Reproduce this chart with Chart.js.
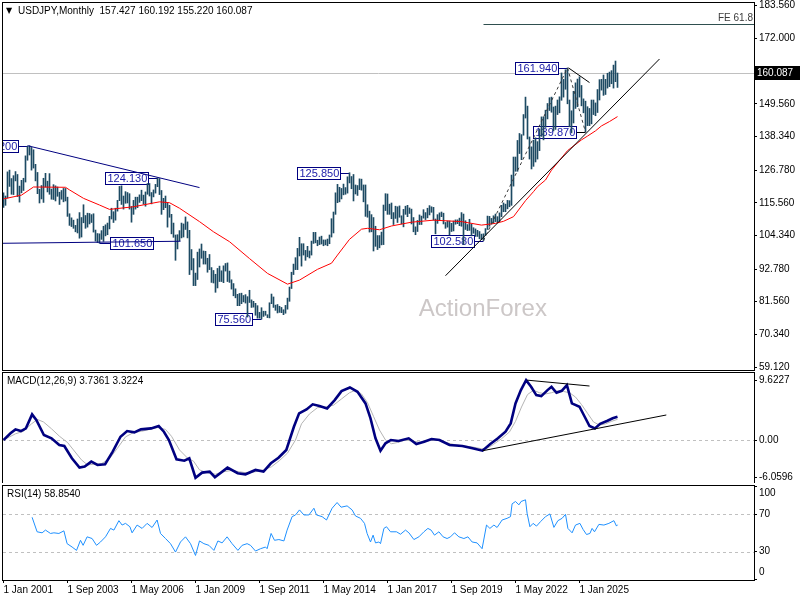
<!DOCTYPE html>
<html><head><meta charset="utf-8">
<script src="https://cdn.jsdelivr.net/npm/chart.js@4.4.1/dist/chart.umd.min.js"></script>
<style>
html,body{margin:0;padding:0;background:#fff;width:800px;height:600px;overflow:hidden}
canvas{position:absolute;left:0}
#cMain{top:0}
#cMacd{top:372px}
#cRsi{top:484px}
</style></head><body>
<canvas id="cMain" width="800" height="372" style="width:800px;height:372px"></canvas>
<canvas id="cMacd" width="800" height="111" style="width:800px;height:111px"></canvas>
<canvas id="cRsi" width="800" height="116" style="width:800px;height:116px"></canvas>
<script>
// ---------- DATA ----------
const symbolTitle = 'USDJPY,Monthly';
const lastBar = {open:157.427, high:160.192, low:155.220, close:160.087};
const xTickBars = [0,32,64,96,128,160,192,224,256,288];
const xTickLabels = ['1 Jan 2001','1 Sep 2003','1 May 2006','1 Jan 2009','1 Sep 2011','1 May 2014','1 Jan 2017','1 Sep 2019','1 May 2022','1 Jan 2025'];
const priceTicks = [183.56,172.0,149.56,138.34,126.78,115.56,104.34,92.78,81.56,70.34,59.12];
const macdTicks = [9.6227,0,-6.0596];
const macdTickLabels = ['9.6227','0.00','-6.0596'];
const rsiTicks = [100,70,30,0];
const rsiLevels = [70,30];

// monthly highs, Jan 2001 .. Aug 2026
const highs = [
119.0,117.9,126.2,126.8,123.9,124.9,126.3,125.3,121.3,123.3,124.0,131.7,
135.0,135.2,134.6,133.8,128.8,126.0,120.2,121.5,124.0,125.7,123.0,125.6,
120.3,121.8,121.4,121.0,119.2,119.8,120.5,120.5,117.5,111.8,110.4,109.6,
107.8,110.0,112.2,110.5,114.9,111.2,112.0,111.9,111.5,111.8,106.2,105.0,
104.9,106.0,107.5,108.0,108.6,110.9,113.7,112.5,113.7,116.4,121.2,121.4,
117.9,119.4,119.1,118.7,114.3,116.4,117.5,117.5,118.3,119.9,118.2,119.3,
122.2,122.2,119.1,120.0,121.9,124.1,123.9,119.8,117.1,117.9,115.4,114.7,
111.6,108.6,104.5,104.6,106.0,108.6,108.3,110.7,109.0,106.1,99.5,96.4,
91.4,98.6,99.7,101.4,99.0,98.9,96.5,97.8,93.3,92.3,91.0,93.0,
93.8,92.2,93.9,94.7,94.9,92.1,89.1,87.8,86.0,84.1,84.4,84.5,
83.7,84.0,83.3,85.5,82.2,81.7,81.0,80.2,77.9,79.5,78.3,78.3,
77.1,81.2,84.2,83.2,80.4,80.6,80.0,79.6,78.8,80.3,82.8,86.6,
91.7,94.5,96.7,99.9,103.7,101.5,101.5,99.2,100.6,99.0,102.4,105.4,
105.4,102.7,103.8,104.1,102.8,102.8,103.1,104.5,110.1,112.4,119.0,121.9,
120.9,120.5,122.0,120.8,124.5,125.9,124.6,125.3,121.7,121.5,123.8,123.7,
121.7,121.7,114.9,112.7,111.5,110.5,107.5,104.3,104.3,105.5,114.8,118.7,
118.6,115.1,115.5,112.2,114.4,114.2,114.5,111.1,113.3,114.4,114.7,113.8,
113.4,110.5,107.3,109.5,111.4,111.0,113.2,112.2,113.7,114.6,114.2,114.0,
110.0,111.5,112.1,112.4,112.0,108.8,109.3,109.3,108.5,109.3,109.7,109.7,
110.3,112.2,111.7,109.4,108.1,109.9,108.2,107.0,106.6,106.1,105.7,104.8,
104.9,106.7,111.0,110.9,110.2,111.1,111.7,110.8,112.1,114.7,115.5,115.1,
116.4,116.3,125.1,131.3,131.3,137.0,139.4,139.0,145.9,151.9,148.8,138.2,
134.8,137.1,137.9,136.6,140.9,145.1,145.1,147.4,149.7,151.7,151.9,148.5,
148.8,150.9,152.0,160.2,158.0,161.3,161.9,150.9,147.2,153.9,156.8,158.1,
158.9,155.9,151.3,150.5,148.6,148.0,150.9,150.9,149.9,154.5,157.9,158.0,
159.5,158.0,160.1,160.5,161.0,162.9,164.3,160.19
];
// monthly lows, Jan 2001 .. Aug 2026
const lows = [
114.0,114.7,117.2,121.2,118.5,118.4,123.1,117.7,115.8,119.0,119.8,122.7,
130.2,132.0,126.8,127.5,123.1,118.7,115.5,116.9,115.7,121.0,119.3,118.5,
116.8,116.7,116.2,117.8,115.0,116.8,115.9,116.2,110.9,107.8,107.4,106.8,
105.6,105.2,103.4,103.8,108.7,106.8,107.2,108.3,108.8,105.5,102.4,101.9,
101.7,103.0,102.3,104.2,104.6,106.6,110.0,108.8,109.6,112.7,116.3,115.0,
113.4,115.4,115.5,113.4,108.9,111.6,113.4,113.9,115.7,116.3,115.1,114.4,
118.5,117.9,115.2,117.6,118.9,121.1,118.4,111.6,113.2,113.9,107.2,110.6,
104.9,103.7,95.8,99.7,102.5,103.5,103.8,106.4,103.5,90.9,92.5,87.1,
87.1,89.2,93.5,96.5,94.5,94.5,91.7,92.6,88.2,88.0,84.8,86.3,
88.5,88.5,88.1,92.1,88.5,88.2,85.9,83.6,82.9,80.2,80.2,80.9,
81.5,81.1,76.3,81.3,79.6,79.7,76.9,75.9,75.9,75.6,76.5,76.9,
76.1,76.0,80.9,79.6,78.6,77.7,77.9,77.8,77.1,77.6,79.0,81.7,
86.1,90.9,92.6,92.6,97.3,93.8,97.6,95.8,97.0,96.6,97.6,101.6,
101.8,100.8,101.2,101.4,100.8,101.1,100.8,101.5,103.8,105.2,111.6,115.6,
115.9,116.9,118.3,118.5,118.9,122.4,120.4,116.2,118.6,118.1,120.1,119.9,
115.9,110.9,110.6,105.5,105.6,99.0,100.6,99.5,100.1,101.1,101.2,112.9,
111.6,111.6,110.1,108.1,110.2,108.8,110.6,108.3,107.3,111.6,110.8,111.9,
108.3,105.6,104.6,105.7,108.1,108.1,110.3,109.8,110.4,111.4,112.3,109.6,
104.9,108.5,109.7,110.8,108.3,106.8,107.2,104.5,105.7,105.9,108.2,108.4,
107.7,107.5,101.2,106.4,106.0,106.1,104.2,105.1,104.0,104.0,103.2,102.9,
102.6,104.4,106.4,107.5,108.3,108.6,109.1,108.7,109.1,110.8,112.5,112.5,
113.5,114.2,114.7,121.3,126.4,126.4,132.5,130.4,138.8,144.7,137.5,130.6,
127.2,128.1,129.6,130.6,133.5,138.4,137.2,141.5,144.4,147.3,146.7,140.3,
140.8,145.9,146.5,150.8,151.9,154.6,149.6,141.7,139.6,143.0,148.0,148.6,
151.9,148.9,146.5,139.9,142.1,142.1,142.7,145.9,145.5,146.6,150.9,154.3,
152.5,152.8,155.0,155.5,156.5,155.0,157.2,155.22
];
// red moving average, read at sample bars
const maBars =   [0,9,15,31,33,40,48,53,65,78,83,88,98,105,113,123,132,142,148,157,164,167,173,179,182,188,194,204,215,229,239,246,250,255,261,265,267,271,274,282,289,292,296,299,303,307];
const maValues = [116.9,118.2,121.0,120.9,120.0,117.1,114.8,113.3,114.2,115.9,115.6,113.7,109.1,105.6,102.2,96.4,91.3,87.6,89.0,92.7,94.8,97.6,103.0,106.5,106.8,106.3,107.6,108.9,109.6,109.1,107.9,108.5,109.2,110.8,116.3,119.4,121.1,123.4,126.8,133.5,137.2,138.5,140.3,142.0,143.5,145.2];

// MACD main line
const macdBars = [0,3.5,6,8.7,11.2,14.3,16.4,20.2,24,27.9,30.4,34.2,38,40.6,43.9,47,50.8,54.6,58.5,61.8,65.4,68.7,73.8,77.6,80.2,82.7,86.5,90.4,92.9,96,99.3,103.1,105.7,112,117.1,121,126,130,133.7,137.5,141.4,145.2,147.8,151.5,154.6,158,161.8,165.6,169,173.2,177,181,183.5,186,188.5,191,193.7,197.5,202.6,206.4,210.3,214,218,223,229.4,234.5,239.5,243.4,247.2,251,253.6,256,258.7,261.3,263.8,266.4,268.9,272,274,276.5,279.1,281.7,284.2,288,290.6,293,295.7,298.3,302,304.6,307];
const macdValues = [0,1.07,1.71,1.44,1.87,4.12,3.21,0.80,0.27,-0.80,-0.96,-2.94,-4.44,-4.28,-3.48,-4.01,-3.90,-1.87,0.53,1.44,1.23,1.71,1.87,2.25,1.33,0,-3.10,-3.32,-2.94,-6.06,-5.24,-5.08,-5.98,-4.44,-5.34,-5.51,-4.81,-5.08,-3.74,-2.84,-1.60,2.13,4.28,4.92,5.73,5.45,5.08,6.42,7.86,8.45,7.75,5.88,3.48,0.27,-1.71,-0.53,0,-0.16,0.27,-0.64,-0.27,0.16,0,-0.80,-0.96,-1.33,-1.71,-0.64,0.27,1.33,2.67,5.88,8.02,9.62,8.55,7.22,7.06,8.02,8.55,7.59,7.91,8.82,5.88,5.35,3.74,2.25,1.87,2.60,3.10,3.50,3.7361];
// MACD signal line
const signalBars = [0,3,6,10,14,17,20,24,28,32,35,39,42,45,49,53,57,61,65,69,73,77,81,84,88,92,95,98,102,106,110,114,118,122,126,130,134,138,142,146,149,153,157,161,165,169,173,176,179,182,185,188,191,194,197,201,205,209,213,217,221,225,229,234,239,242,245,249,253,256,259,262,265,268,271,274,277,280,283,286,289,292,295,298,301,304,307];
const signalValues = [0,0.5,1.0,1.4,2.6,3.3,2.9,1.8,0.6,-0.4,-1.6,-3.2,-4.0,-3.9,-3.8,-3.0,-1.3,0.5,1.2,1.4,1.7,2.0,1.7,0.6,-1.6,-2.9,-3.4,-4.8,-5.3,-5.5,-5.1,-4.9,-5.1,-5.3,-5.1,-4.8,-4.3,-3.3,-2.1,0.0,2.6,4.2,5.2,5.3,5.6,6.6,7.6,8.0,7.4,6.0,3.8,1.6,0.0,-0.6,-0.4,0.0,-0.2,-0.4,-0.1,0.0,-0.4,-0.7,-0.9,-1.1,-1.4,-1.3,-0.7,0.2,1.3,3.0,5.3,7.3,8.0,7.6,7.4,7.6,7.9,7.8,7.6,6.9,5.7,4.3,2.9,2.4,2.6,3.0,3.3224];
// RSI(14)
const rsiBars = [14.3,16.8,19.3,21,23.5,25.2,27.7,30.2,31.8,34.3,36.5,38.5,39.8,41.8,44.3,46.5,48.5,51,53.5,55.2,57.7,59.3,61,63.2,64.3,66.8,69.3,71.8,74.3,76.8,78.5,81,83.5,86,88.5,91,93.5,96,98,100.2,102.7,105.2,107.2,109.3,111.8,114.3,117.2,119.3,121.8,123.5,126,128.5,131,131.8,133.8,135.5,137.7,140.2,141.8,144.3,146,148,150.2,152.7,155.2,156.5,159.3,161.5,164.3,166.8,168.8,171.8,174.3,176,178.5,180.5,181.8,183.5,184.8,186,187.7,188.5,190.2,191.5,193.5,196.5,198.5,201,202.7,205.2,207.7,210.2,212.2,213.8,215.5,217.7,219.8,221.8,223.5,225.5,227.7,230.2,232.2,234.3,236.8,239.3,241.5,243.2,245.2,246.8,249.3,251.8,253.5,254.3,256,257.7,258.8,261,261.8,263.2,264.8,266.5,268.5,271,273.2,275.2,277.2,279.3,281,282.2,284.3,286,288.2,289.8,291.5,293.2,294.3,295.5,297.7,300.2,302.7,305.2,306.5,307];
const rsiValues = [66.8,51.3,50.2,53.1,49.5,50.2,49.5,52.3,38.6,35.0,31.4,42.2,36.8,45.9,44.1,36.8,40.4,45.9,54.9,53.1,63.2,58.5,60.3,56.7,50.2,58.5,54.9,60.3,55.9,63.9,49.5,44.1,38.6,29.6,40.4,45.9,38.6,26.0,41.5,38.6,36.8,31.4,41.5,39.4,45.9,38.6,31.4,36.8,38.6,36.8,30.7,33.2,35.0,33.2,49.5,42.2,43.0,41.5,53.1,67.5,69.3,74.7,69.3,69.3,76.5,69.3,67.5,63.9,76.5,82.6,77.6,79.0,74.7,68.2,65.7,60.3,49.5,40.4,47.7,39.4,40.4,38.6,54.9,56.7,51.3,51.3,48.7,53.1,50.2,43.0,45.9,51.3,54.9,53.1,47.7,51.3,45.9,44.1,45.9,50.2,45.9,44.1,45.9,40.4,39.4,33.2,58.5,54.9,58.5,55.9,63.9,65.7,67.5,81.2,83.7,80.1,83.7,85.5,71.1,56.7,60.3,57.4,62.1,67.5,70.4,56.0,63.2,65.7,70.0,54.9,50.2,58.5,60.3,53.8,48.4,49.5,54.9,51.3,59.2,58.5,60.3,63.2,57.4,58.854];

// chart annotations (bar index, price)
const peakLabels = [
  {bar:12, price:135.2, text:'135.200', side:'left'},
  {bar:77, price:124.13, text:'124.130', side:'left'},
  {bar:48, price:101.65, text:'101.650', side:'right'},
  {bar:129, price:75.56, text:'75.560', side:'left'},
  {bar:173, price:125.85, text:'125.850', side:'left'},
  {bar:240, price:102.58, text:'102.580', side:'left'},
  {bar:282, price:161.94, text:'161.940', side:'left'},
  {bar:291, price:139.87, text:'139.870', side:'left'}
];
const descTrend = [[12,135.2],[98,120.8]];
const flatTrend = [[-0.25,101.65],[88.5,102.35]];
const riseTrend = [[221,90.5],[328,165.0]];
const feLevel = {fromBar:240, price:176.9, text:'FE 61.8'};
const feLegs = [[240,102.58],[282,161.94],[291,139.87]];
const topDrop = [[282.5,161.94],[293,156.9]];
const macdUpper = [[261.8,9.62],[293,8.68]];
const macdLower = [[239.6,-1.72],[331.4,4.02]];

// ---------- RENDER ----------
const XMIN = -0.25, XMAX = 375.25;
const FONT = '"Liberation Sans", Arial, sans-serif';
Chart.defaults.font.family = FONT;
Chart.defaults.font.size = 10;
Chart.defaults.color = '#000';

function path(ctx, xs, ys, pts){
  ctx.beginPath();
  pts.forEach((p,i)=>{const px=xs.getPixelForValue(p[0]), py=ys.getPixelForValue(p[1]); i?ctx.lineTo(px,py):ctx.moveTo(px,py);});
}
function clipArea(ctx,a){ctx.beginPath();ctx.rect(a.left,a.top,a.right-a.left,a.bottom-a.top);ctx.clip();}
function border(ctx,a){ctx.save();ctx.strokeStyle='#000';ctx.lineWidth=1;ctx.setLineDash([]);ctx.strokeRect(a.left-0.5,a.top-0.5,a.right-a.left+1,a.bottom-a.top+1);ctx.restore();}
const xAxisHidden = {type:'linear', min:XMIN, max:XMAX, display:false, offset:false};
const rightAxis = (min,max,ticks,fmt,showLabels)=>({
  position:'right', min, max,
  afterFit(s){s.width=46; s.paddingTop=0; s.paddingBottom=0;},
  afterBuildTicks(s){s.ticks=ticks.map(v=>({value:v}));},
  ticks:{display:showLabels, callback:fmt, padding:2, color:'#000', font:{size:10}, autoSkip:false},
  grid:{drawOnChartArea:false, tickLength:3, color:'#000'},
  border:{display:false}
});

const mainPlugin = {
  id:'mainDecor',
  beforeDatasetsDraw(chart){
    const {ctx, chartArea:a, scales:{x,y}} = chart;
    ctx.save(); clipArea(ctx,a);
    ctx.fillStyle='#ccc7c7'; ctx.font='24px '+FONT; ctx.textAlign='center'; ctx.textBaseline='middle';
    ctx.fillText('ActionForex', a.left+(a.right-a.left)*0.639, a.top+(a.bottom-a.top)*0.834);
    const cy = Math.round(y.getPixelForValue(lastBar.close))+0.5;
    ctx.strokeStyle='#c0c0c0'; ctx.lineWidth=1; ctx.beginPath(); ctx.moveTo(a.left,cy); ctx.lineTo(a.right,cy); ctx.stroke();
    ctx.font='11px '+FONT; ctx.textAlign='left'; ctx.textBaseline='middle';
    peakLabels.forEach(l=>{
      const bx=x.getPixelForValue(l.bar), by=Math.round(y.getPixelForValue(l.price))+0.5;
      const w=Math.round(ctx.measureText(l.text).width)+3, h=12;
      const left = l.side==='left' ? Math.round(bx-10-w)+0.5 : Math.round(bx+10)+0.5;
      ctx.strokeStyle = l.bar===291 ? '#000' : '#000080'; ctx.lineWidth=1;
      ctx.beginPath();
      if(l.side==='left'){ctx.moveTo(left+w,by);ctx.lineTo(bx,by);} else {ctx.moveTo(bx,by);ctx.lineTo(left,by);}
      ctx.stroke();
      ctx.fillStyle='#fff'; ctx.fillRect(left,by-h/2,w,h);
      ctx.strokeStyle='#000080'; ctx.strokeRect(left,by-h/2,w,h);
      ctx.fillStyle='#1a1aa8'; ctx.fillText(l.text,left+2,by+0.5);
    });
    ctx.restore();
  },
  afterDatasetsDraw(chart){
    const {ctx, chartArea:a, scales:{x,y}} = chart;
    ctx.save(); clipArea(ctx,a);
    ctx.lineWidth=1;
    ctx.strokeStyle='#000080'; path(ctx,x,y,descTrend); ctx.stroke();
    path(ctx,x,y,flatTrend); ctx.stroke();
    ctx.strokeStyle='#000'; path(ctx,x,y,riseTrend); ctx.stroke();
    path(ctx,x,y,topDrop); ctx.stroke();
    ctx.strokeStyle='#3a3a3a'; ctx.setLineDash([3,3]); path(ctx,x,y,feLegs); ctx.stroke(); ctx.setLineDash([]);
    const fy=Math.round(y.getPixelForValue(feLevel.price))+0.5;
    ctx.strokeStyle='#2f4f4f'; ctx.beginPath(); ctx.moveTo(x.getPixelForValue(feLevel.fromBar),fy); ctx.lineTo(a.right,fy); ctx.stroke();
    ctx.fillStyle='#3c3c3c'; ctx.font='10px '+FONT; ctx.textAlign='right'; ctx.textBaseline='bottom';
    ctx.fillText(feLevel.text, a.right-1, fy-1);
    ctx.restore();
  },
  afterDraw(chart){
    const {ctx, chartArea:a, scales:{y}} = chart;
    border(ctx,a);
    ctx.save();
    ctx.fillStyle='#000'; ctx.textBaseline='middle'; ctx.textAlign='left';
    ctx.font='8px "DejaVu Sans"'; ctx.fillText('▼', a.left+3, a.top+8);
    ctx.font='10px '+FONT;
    ctx.fillText(symbolTitle+'  '+[lastBar.open,lastBar.high,lastBar.low,lastBar.close].map(v=>v.toFixed(3)).join(' '), a.left+15, a.top+8);
    const cy=Math.round(y.getPixelForValue(lastBar.close));
    ctx.fillStyle='#000'; ctx.fillRect(a.right+1,cy-7,chart.width-a.right-1,14);
    ctx.fillStyle='#fff'; ctx.fillText(lastBar.close.toFixed(3), a.right+3, cy+0.5);
    ctx.restore();
  }
};

new Chart(document.getElementById('cMain'), {
  type:'bar',
  data:{datasets:[
    {type:'line', data:maBars.map((b,i)=>({x:b,y:maValues[i]})), borderColor:'#ff0000', borderWidth:1, pointRadius:0, tension:0, order:0},
    {type:'bar', data:highs.map((h,i)=>({x:i,y:[lows[i],h]})), backgroundColor:'#1d4a63', borderWidth:0, barThickness:1, grouped:false, order:1}
  ]},
  options:{
    responsive:false, animation:false, devicePixelRatio:1,
    layout:{padding:{left:3,top:3,bottom:2,right:0}},
    plugins:{legend:{display:false},tooltip:{enabled:false}},
    scales:{
      x:xAxisHidden,
      y:rightAxis(58.09,184.25,priceTicks,v=>v.toFixed(3),true)
    }
  },
  plugins:[mainPlugin]
});

const macdPlugin = {
  id:'macdDecor',
  beforeDatasetsDraw(chart){
    const {ctx, chartArea:a, scales:{y}} = chart;
    ctx.save();
    const zy=Math.round(y.getPixelForValue(0))+0.5;
    ctx.strokeStyle='#c0c0c0'; ctx.setLineDash([3,3]); ctx.lineWidth=1;
    ctx.beginPath(); ctx.moveTo(a.left,zy); ctx.lineTo(a.right,zy); ctx.stroke();
    ctx.restore();
  },
  afterDatasetsDraw(chart){
    const {ctx, chartArea:a, scales:{x,y}} = chart;
    ctx.save(); clipArea(ctx,a);
    ctx.strokeStyle='#000'; ctx.lineWidth=1;
    path(ctx,x,y,macdUpper); ctx.stroke();
    path(ctx,x,y,macdLower); ctx.stroke();
    ctx.restore();
    border(ctx,a);
    ctx.save(); ctx.fillStyle='#000'; ctx.font='10px '+FONT; ctx.textBaseline='middle';
    ctx.fillText('MACD(12,26,9) '+macdValues[macdValues.length-1].toFixed(4)+' '+signalValues[signalValues.length-1].toFixed(4), a.left+4, a.top+8);
    ctx.restore();
  }
};
new Chart(document.getElementById('cMacd'), {
  type:'line',
  data:{datasets:[
    {data:macdBars.map((b,i)=>({x:b,y:macdValues[i]})), borderColor:'#000080', borderWidth:2.6, pointRadius:0, tension:0, order:0},
    {data:signalBars.map((b,i)=>({x:b,y:signalValues[i]})), borderColor:'#b4b4b4', borderWidth:1, pointRadius:0, tension:0, order:1}
  ]},
  options:{
    responsive:false, animation:false, devicePixelRatio:1,
    layout:{padding:{left:3,top:1,bottom:0,right:0}},
    plugins:{legend:{display:false},tooltip:{enabled:false}},
    scales:{
      x:xAxisHidden,
      y:rightAxis(-6.91,10.77,macdTicks,(v,i)=>macdTickLabels[i],true)
    }
  },
  plugins:[macdPlugin]
});

const rsiPlugin = {
  id:'rsiDecor',
  beforeDatasetsDraw(chart){
    const {ctx, chartArea:a, scales:{y}} = chart;
    ctx.save(); ctx.strokeStyle='#c0c0c0'; ctx.setLineDash([3,3]); ctx.lineWidth=1;
    rsiLevels.forEach(v=>{const ly=Math.round(y.getPixelForValue(v))+0.5; ctx.beginPath(); ctx.moveTo(a.left,ly); ctx.lineTo(a.right,ly); ctx.stroke();});
    ctx.restore();
  },
  afterDraw(chart){
    const {ctx, chartArea:a, scales:{y}} = chart;
    border(ctx,a);
    ctx.save(); ctx.fillStyle='#000'; ctx.font='10px '+FONT; ctx.textBaseline='middle'; ctx.textAlign='left';
    ctx.fillText('RSI(14) '+rsiValues[rsiValues.length-1].toFixed(4), a.left+4, a.top+8);
    rsiTicks.forEach(v=>{
      let py=y.getPixelForValue(v); py=Math.min(Math.max(py,a.top+7),a.bottom-8);
      ctx.fillText(String(v), a.right+5, py);
    });
    ctx.restore();
  }
};
new Chart(document.getElementById('cRsi'), {
  type:'line',
  data:{datasets:[
    {data:rsiBars.map((b,i)=>({x:b,y:rsiValues[i]})), borderColor:'#1e90ff', borderWidth:1, pointRadius:0, tension:0}
  ]},
  options:{
    responsive:false, animation:false, devicePixelRatio:1,
    layout:{padding:{left:3,top:2,bottom:0,right:0}},
    plugins:{legend:{display:false},tooltip:{enabled:false}},
    scales:{
      x:{type:'linear', min:XMIN, max:XMAX, position:'bottom', offset:false,
         afterFit(s){s.height=20; s.paddingLeft=0; s.paddingRight=0;},
         afterBuildTicks(s){s.ticks=xTickBars.map(v=>({value:v}));},
         ticks:{callback:(v,i)=>xTickLabels[i], align:'start', maxRotation:0, autoSkip:false, padding:1, color:'#000', font:{size:10}},
         grid:{drawOnChartArea:false, tickLength:3, color:'#000'}, border:{display:false}},
      y:rightAxis(-0.27,100.27,rsiTicks,v=>String(v),false)
    }
  },
  plugins:[rsiPlugin]
});
</script>
</body></html>
